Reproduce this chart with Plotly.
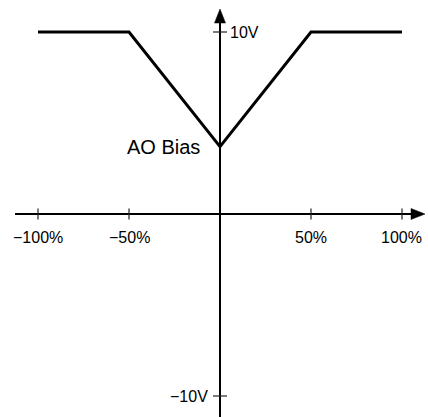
import plotly.graph_objects as go

# ---- data ----
x_pct = [-100, -50, 0, 50, 100]
y_volt = [10, 10, 3.7, 10, 10]
x_tick_vals = [-100, -50, 50, 100]
x_tick_labels = ["\u2212100%", "\u221250%", "50%", "100%"]
y_tick_vals = [10, -10]
y_tick_labels = ["10V", "\u221210V"]
bias_label = "AO Bias"

# ---- scale helpers (pixel sizes -> data units) ----
W, H = 428, 417
X0, X1 = -120.88, 114.29
Y0, Y1 = -11.154, 11.758
px_x = (X1 - X0) / W
px_y = (Y1 - Y0) / H

fig = go.Figure()

# axis lines
fig.add_trace(go.Scatter(x=[X0 + 15 * px_x, 106], y=[0, 0], mode="lines",
                         line=dict(color="black", width=2), hoverinfo="skip"))
fig.add_trace(go.Scatter(x=[0, 0], y=[Y0, 10.6], mode="lines",
                         line=dict(color="black", width=2), hoverinfo="skip"))

# arrowheads
tip_x = (425 - 220) * px_x
base_x = (411 - 220) * px_x
fig.add_trace(go.Scatter(x=[base_x, tip_x, base_x, base_x],
                         y=[5.5 * px_y, 0, -5.5 * px_y, 5.5 * px_y],
                         mode="lines", fill="toself", fillcolor="black",
                         line=dict(color="black", width=0.5), hoverinfo="skip"))
tip_y = (214 - 9) * px_y
base_y = (214 - 23) * px_y
fig.add_trace(go.Scatter(x=[-5.5 * px_x, 0, 5.5 * px_x, -5.5 * px_x],
                         y=[base_y, tip_y, base_y, base_y],
                         mode="lines", fill="toself", fillcolor="black",
                         line=dict(color="black", width=0.5), hoverinfo="skip"))

# tick marks
tx, ty = [], []
for v in x_tick_vals:
    tx += [v, v, None]
    ty += [5.5 * px_y, -5.5 * px_y, None]
for v in y_tick_vals:
    tx += [-7 * px_x, 7 * px_x, None]
    ty += [v, v, None]
fig.add_trace(go.Scatter(x=tx, y=ty, mode="lines",
                         line=dict(color="#222", width=1.2), hoverinfo="skip"))

# main curve
fig.add_trace(go.Scatter(x=x_pct, y=y_volt, mode="lines",
                         line=dict(color="black", width=3), hoverinfo="skip"))

font = dict(family="Liberation Sans, Arial, sans-serif", color="black", size=16)

for v, lab in zip(x_tick_vals, x_tick_labels):
    fig.add_annotation(x=v, y=0, text=lab, showarrow=False, xanchor="center",
                       yanchor="middle", yshift=-23, font=font)
for v, lab in zip(y_tick_vals, y_tick_labels):
    if v > 0:
        fig.add_annotation(x=0, y=v, text=lab, showarrow=False, xanchor="left",
                           yanchor="middle", xshift=8, font=font)
    else:
        fig.add_annotation(x=0, y=v, text=lab, showarrow=False, xanchor="right",
                           yanchor="middle", xshift=-10, font=font)

fig.add_annotation(x=0, y=y_volt[2], text=bias_label, showarrow=False,
                   xanchor="right", yanchor="middle", xshift=-18,
                   font=dict(family="Liberation Sans, Arial, sans-serif", color="black", size=20))

fig.update_layout(
    width=W, height=H, margin=dict(l=0, r=0, t=0, b=0),
    paper_bgcolor="white", plot_bgcolor="white", showlegend=False,
    xaxis=dict(range=[X0, X1], visible=False, fixedrange=True),
    yaxis=dict(range=[Y0, Y1], visible=False, fixedrange=True),
)

fig.write_html("out.html", config={"displayModeBar": False},
               post_script="document.body.style.margin='0px';document.body.style.overflow='hidden';")
